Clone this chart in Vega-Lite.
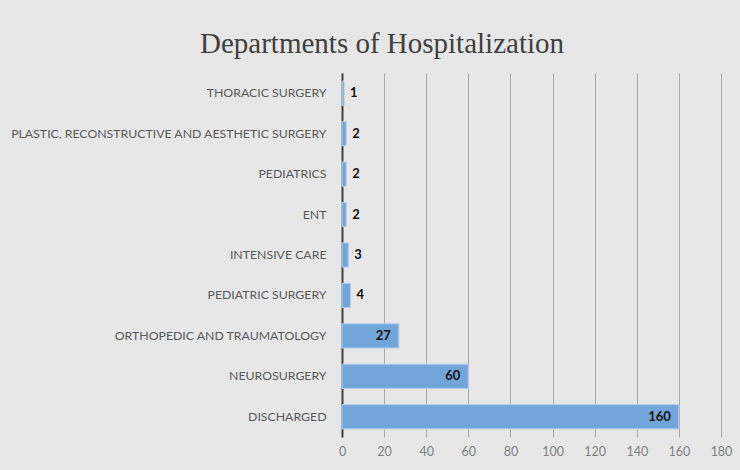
{
  "$schema": "https://vega.github.io/schema/vega-lite/v6.json",
  "autosize": "none",
  "width": 379,
  "height": 364,
  "padding": {"left": 342, "top": 73, "right": 19, "bottom": 33},
  "background": "#e7e7e7",
  "title": {
    "text": "Departments of Hospitalization",
    "font": "Liberation Serif",
    "fontSize": 29,
    "fontWeight": "normal",
    "color": "#404040",
    "anchor": "start",
    "frame": "group",
    "dx": -142,
    "offset": 14
  },
  "data": {
    "values": [
      {"dept": "THORACIC SURGERY", "count": 1},
      {"dept": "PLASTIC, RECONSTRUCTIVE AND AESTHETIC SURGERY", "count": 2},
      {"dept": "PEDIATRICS", "count": 2},
      {"dept": "ENT", "count": 2},
      {"dept": "INTENSIVE CARE", "count": 3},
      {"dept": "PEDIATRIC SURGERY", "count": 4},
      {"dept": "ORTHOPEDIC AND TRAUMATOLOGY", "count": 27},
      {"dept": "NEUROSURGERY", "count": 60},
      {"dept": "DISCHARGED", "count": 160}
    ]
  },
  "encoding": {
    "y": {
      "field": "dept", "type": "nominal", "sort": null, "title": null,
      "scale": {"paddingInner": 0.4, "paddingOuter": 0.2},
      "axis": {
        "labelFont": "Lato",
        "labelFontSize": 12.3,
        "labelColor": "#595959",
        "labelPadding": 16,
        "ticks": false,
        "domainColor": "#404040",
        "domainWidth": 2,
        "grid": false,
        "labelLimit": 400
      }
    },
    "x": {
      "field": "count", "type": "quantitative", "title": null,
      "scale": {"domain": [0, 180]},
      "axis": {
        "values": [0, 20, 40, 60, 80, 100, 120, 140, 160, 180],
        "labelFont": "Lato",
        "labelFontSize": 12.5,
        "labelColor": "#7f7f7f",
        "labelPadding": 8,
        "labelFlush": false,
        "domain": false,
        "ticks": false,
        "grid": true,
        "gridColor": "#a8a8a8",
        "gridWidth": 1
      }
    }
  },
  "layer": [
    {
      "mark": {"type": "bar", "color": "#72a6da", "stroke": "#b3d0ee", "strokeWidth": 1}
    },
    {
      "transform": [{"filter": "datum.count >= 10"}],
      "mark": {"type": "text", "align": "right", "dx": -8, "font": "Lato", "fontWeight": "bold", "fontSize": 13, "color": "#111111"},
      "encoding": {"text": {"field": "count", "type": "quantitative"}}
    },
    {
      "transform": [{"filter": "datum.count < 10"}],
      "mark": {"type": "text", "align": "left", "dx": 6, "font": "Lato", "fontWeight": "bold", "fontSize": 13, "color": "#111111"},
      "encoding": {"text": {"field": "count", "type": "quantitative"}}
    }
  ],
  "config": {"view": {"stroke": null}}
}
